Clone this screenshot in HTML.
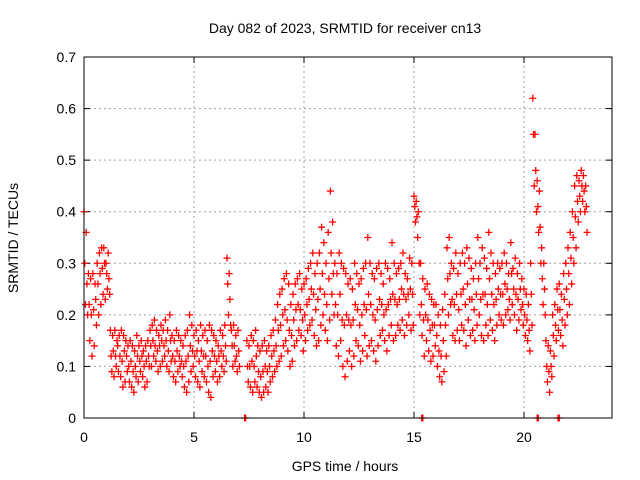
<!DOCTYPE html>
<html><head><meta charset="utf-8"><style>
html,body{margin:0;padding:0;background:#fff}
svg{display:block;font-family:"Liberation Sans",sans-serif}
</style></head><body>
<svg id="chart" width="640" height="480">
<rect width="640" height="480" fill="#fff"/>
<text x="345" y="33" text-anchor="middle" font-size="14">Day 082 of 2023, SRMTID for receiver cn13</text>
<text x="345" y="471" text-anchor="middle" font-size="14">GPS time / hours</text>
<text transform="translate(18,238) rotate(-90)" text-anchor="middle" font-size="14">SRMTID / TECUs</text>
<g id="grid"></g><g id="axes"></g><g id="marks"></g>
<rect x="84" y="57" width="528" height="361" fill="none" stroke="#000" stroke-width="1"/>
</svg>
<script>
const xTicks=[0,5,10,15,20];
const yTicks=[0,0.1,0.2,0.3,0.4,0.5,0.6,0.7];
const yTickLabels=["0","0.1","0.2","0.3","0.4","0.5","0.6","0.7"];
const tStart=0, tStep=0.1;
const upperValues=[.40,.36,.28,.27,.28,.26,.30,.32,.33,.33,
.30,.32,.17,.16,.17,.15,.16,.17,.16,.15,
.14,.15,.14,.13,.16,.14,.15,.13,.14,.15,
.17,.18,.19,.17,.16,.18,.17,.19,.17,.20,
.16,.15,.17,.16,.15,.14,.16,.17,.20,.18,
.16,.17,.15,.18,.16,.17,.15,.18,.17,.16,
.15,.14,.17,.16,.18,.31,.28,.17,.18,.16,
.17,null,null,null,.15,.14,.16,.15,.17,.14,
.13,.14,.15,.13,.14,.16,.17,.19,.22,.24,
.25,.27,.28,.26,.22,.24,.26,.27,.28,.25,
.26,.27,.29,.30,.32,.28,.30,.32,.37,.34,
.30,.36,.44,.38,.30,.28,.32,.30,.29,.28,
.26,.27,.25,.30,.28,.26,.27,.29,.30,.35,
.30,.28,.27,.29,.30,.28,.26,.30,.29,.27,
.34,.30,.28,.29,.30,.32,.28,.27,.31,.30,
.43,.42,.40,.30,.27,.25,.26,.24,.23,.22,
.22,.20,.18,.21,.24,.33,.35,.30,.29,.32,
.28,.30,.32,.30,.33,.31,.29,.27,.30,.35,
.30,.33,.31,.29,.36,.32,.30,.28,.30,.29,
.30,.32,.30,.28,.34,.29,.31,.28,.30,.27,
.25,.24,.22,.30,.62,.55,.46,.44,.33,.30,
.15,.14,.13,.20,.22,.25,.26,.24,.28,.30,
.33,.36,.40,.45,.47,.46,.48,.47,.45];
const middleValues=[.30,.26,.22,.20,.21,.23,.26,.28,.29,.30,
.28,.27,.12,.13,.12,.14,.12,.11,.13,.12,
.10,.11,.09,.10,.12,.11,.12,.10,.11,.12,
.14,.15,.14,.13,.14,.15,.14,.15,.13,.15,
.12,.11,.13,.12,.11,.10,.11,.12,.14,.13,
.12,.13,.11,.13,.12,.12,.10,.11,.13,.12,
.11,.12,.13,.12,.14,.26,.23,.14,.14,.12,
.13,null,null,null,.10,.10,.11,.10,.12,.09,
.08,.09,.10,.09,.10,.12,.13,.14,.17,.18,
.20,.21,.19,.17,.16,.19,.21,.22,.21,.19,
.20,.22,.23,.25,.24,.21,.23,.25,.28,.24,
.22,.27,.32,.28,.22,.20,.24,.19,.18,.20,
.19,.18,.19,.22,.21,.18,.20,.22,.21,.24,
.22,.20,.19,.21,.23,.22,.20,.21,.22,.23,
.24,.23,.22,.23,.25,.24,.23,.24,.25,.24,
.41,.39,.30,.22,.19,.20,.19,.17,.18,.18,
.16,.13,.12,.15,.18,.27,.28,.23,.22,.24,
.21,.24,.25,.22,.26,.23,.23,.21,.24,.27,
.23,.24,.24,.22,.27,.24,.22,.23,.25,.24,
.24,.26,.25,.23,.28,.25,.24,.23,.25,.22,
.20,.19,.17,.24,.55,.48,.41,.37,.27,.25,
.10,.09,.10,.16,.18,.21,.21,.19,.23,.25,
.28,.31,.35,.39,.42,.43,.45,.44,.41];
const lowerValues=[.22,.20,.15,.12,.14,.18,.20,.22,.24,.23,
.25,.24,.09,.08,.10,.09,.08,.06,.07,.09,
.07,.06,.05,.08,.07,.09,.08,.06,.07,.10,
.10,.12,.11,.09,.10,.11,.12,.10,.09,.11,
.08,.07,.09,.10,.08,.06,.05,.07,.09,.10,
.08,.07,.06,.09,.08,.07,.05,.04,.08,.09,
.07,.08,.10,.09,.11,.20,.18,.10,.11,.09,
.10,null,null,null,.07,.06,.05,.07,.06,.05,
.04,.05,.06,.05,.07,.08,.09,.10,.11,.12,
.14,.15,.13,.10,.11,.14,.15,.17,.16,.13,
.15,.17,.18,.19,.16,.14,.15,.18,.20,.17,
.15,.19,.24,.20,.14,.12,.15,.10,.08,.11,
.13,.10,.12,.15,.14,.11,.13,.16,.12,.14,
.15,.13,.11,.14,.16,.17,.15,.13,.16,.18,
.15,.16,.18,.17,.19,.16,.18,.20,.17,.18,
.38,.35,.20,.16,.12,.15,.13,.11,.12,.14,
.10,.08,.07,.09,.12,.20,.22,.16,.15,.17,
.15,.18,.17,.14,.19,.16,.17,.15,.18,.20,
.16,.15,.18,.16,.19,.17,.15,.18,.20,.19,
.18,.20,.21,.19,.22,.20,.17,.19,.21,.18,
.16,.15,.13,.18,.45,.40,.36,.30,.22,.20,
.07,.05,.08,.12,.15,.17,.16,.14,.18,.20,
.22,.26,.30,.33,.38,.40,.42,.40,.36];
const zeroHours=[7.3,15.35,20.6,21.55];

const X0=84,X1=612,Y0=418,Y1=57;
const xScale=h=>X0+(h/24)*(X1-X0);
const yScale=v=>Y0-(v/0.7)*(Y0-Y1);
const NS="http://www.w3.org/2000/svg";
function mk(tag,attrs,parent){const e=document.createElementNS(NS,tag);for(const k in attrs)e.setAttribute(k,attrs[k]);parent.appendChild(e);return e;}
const grid=document.getElementById('grid'),axes=document.getElementById('axes'),marks=document.getElementById('marks');
yTicks.forEach((v,i)=>{const y=yScale(v);
 if(i>0&&i<yTicks.length-1){const g=mk('line',{x1:X0,x2:X1,y1:y,y2:y,stroke:'#a0a0a0','stroke-dasharray':'2,3'},grid);
 
 }
 mk('line',{x1:X0,x2:X0+6,y1:y,y2:y,stroke:'#000'},axes);
 mk('line',{x1:X1,x2:X1-6,y1:y,y2:y,stroke:'#000'},axes);
 const t=mk('text',{x:X0-8,y:y+5,'text-anchor':'end','font-size':14},axes);t.textContent=yTickLabels[i];
 
 
});
xTicks.forEach(h=>{const x=xScale(h);
 if(h>0){const g=mk('line',{x1:x,x2:x,y1:Y0,y2:Y1,stroke:'#a0a0a0','stroke-dasharray':'2,3'},grid);
 
 }
 mk('line',{x1:x,x2:x,y1:Y0,y2:Y0-6,stroke:'#000'},axes);
 mk('line',{x1:x,x2:x,y1:Y1,y2:Y1+6,stroke:'#000'},axes);
 const t=mk('text',{x:x,y:Y0+24,'text-anchor':'middle','font-size':14},axes);t.textContent=String(h);
 
 
});
let d='';
function plus(h,v){if(v===null)return;const x=xScale(h),y=yScale(v);d+=`M${x-3.5} ${y}h7M${x} ${y-3.5}v7`;}
upperValues.forEach((v,i)=>plus(tStart+i*tStep,v));
middleValues.forEach((v,i)=>plus(tStart+i*tStep+0.033,v));
lowerValues.forEach((v,i)=>plus(tStart+i*tStep+0.066,v));
zeroHours.forEach(h=>{plus(h,0);plus(h+0.05,0);});
const p=mk('path',{d:d,stroke:'#ff0000','stroke-width':1.3,fill:'none'},marks);


</script>
</body></html>
